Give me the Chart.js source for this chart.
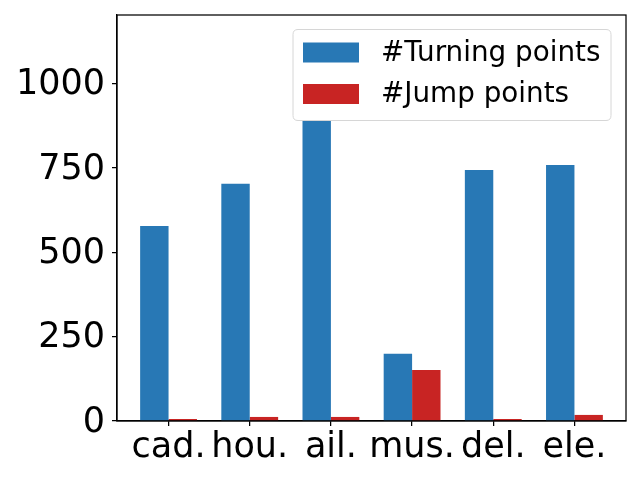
<!DOCTYPE html>
<html>
<head>
<meta charset="utf-8">
<script src="https://cdn.jsdelivr.net/npm/chart.js@4/dist/chart.umd.min.js"></script>
<style>
  html, body { margin: 0; padding: 0; background: #fff; }
  #wrap { width: 640px; height: 480px; }
</style>
</head>
<body>
<div id="wrap"><canvas id="c" width="640" height="480"></canvas></div>
<script>
const categories = ['cad.', 'hou.', 'ail.', 'mus.', 'del.', 'ele.'];
const turningPoints = [578, 703, 1146, 199, 744, 759];
const jumpPoints = [6, 12, 12, 151, 6, 18];
const yTicks = [0, 250, 500, 750, 1000];
const seriesNames = ['#Turning points', '#Jump points'];
const seriesColors = ['#2878b5', '#c82423'];

const FONT = 'DejaVu Sans';

const frameAndLegend = {
  id: 'frameAndLegend',
  afterDraw(chart) {
    const ctx = chart.ctx;
    const a = chart.chartArea;
    ctx.save();
    ctx.strokeStyle = '#000';
    ctx.lineWidth = 1.25;
    ctx.strokeRect(a.left, a.top, a.right - a.left, a.bottom - a.top);

    // legend box (inside plot, upper right)
    const bx = 293, by = 29.5, bw = 318, bh = 91, r = 5;
    ctx.beginPath();
    ctx.moveTo(bx + r, by);
    ctx.lineTo(bx + bw - r, by);
    ctx.quadraticCurveTo(bx + bw, by, bx + bw, by + r);
    ctx.lineTo(bx + bw, by + bh - r);
    ctx.quadraticCurveTo(bx + bw, by + bh, bx + bw - r, by + bh);
    ctx.lineTo(bx + r, by + bh);
    ctx.quadraticCurveTo(bx, by + bh, bx, by + bh - r);
    ctx.lineTo(bx, by + r);
    ctx.quadraticCurveTo(bx, by, bx + r, by);
    ctx.closePath();
    ctx.fillStyle = '#ffffff';
    ctx.fill();
    ctx.strokeStyle = '#d6d6d6';
    ctx.lineWidth = 1;
    ctx.stroke();

    ctx.font = '27.8px "' + FONT + '"';
    ctx.textBaseline = 'middle';
    ctx.textAlign = 'left';
    const rows = [52.5, 94];
    seriesNames.forEach((name, i) => {
      ctx.fillStyle = seriesColors[i];
      ctx.fillRect(303, rows[i] - 10, 56, 20);
      ctx.fillStyle = '#000';
      ctx.fillText(name, 381, rows[i] + 1);
    });
    ctx.restore();
  }
};

const ymax = 1.05 * Math.max(...turningPoints, ...jumpPoints);

new Chart(document.getElementById('c'), {
  type: 'bar',
  data: {
    datasets: [
      {
        label: seriesNames[0],
        data: categories.map((c, i) => ({ x: i, y: turningPoints[i] })),
        backgroundColor: seriesColors[0],
        borderWidth: 0,
        categoryPercentage: 0.7,
        barPercentage: 1.0
      },
      {
        label: seriesNames[1],
        data: categories.map((c, i) => ({ x: i, y: jumpPoints[i] })),
        backgroundColor: seriesColors[1],
        borderWidth: 0,
        categoryPercentage: 0.7,
        barPercentage: 1.0
      }
    ]
  },
  options: {
    responsive: false,
    animation: false,
    devicePixelRatio: 1,
    layout: { padding: { left: 0, right: 14, top: 15, bottom: 0 } },
    plugins: {
      legend: { display: false },
      tooltip: { enabled: false }
    },
    scales: {
      x: {
        type: 'linear',
        offset: false,
        min: -0.635,
        max: categories.length - 1 + 0.635,
        afterBuildTicks: (s) => { s.ticks = categories.map((c, i) => ({ value: i })); },
        afterFit: (s) => { s.height = 59; s.paddingLeft = 0; s.paddingRight = 0; },
        grid: { display: true, offset: false, drawOnChartArea: false, drawTicks: true, tickLength: 5, color: '#000', lineWidth: 1.25 },
        border: { display: true, color: '#000', width: 1.25 },
        ticks: {
          autoSkip: false,
          maxRotation: 0,
          minRotation: 0,
          padding: 1,
          color: '#000',
          font: { family: FONT, size: 35 },
          callback: (v) => categories[Math.round(v)]
        }
      },
      y: {
        type: 'linear',
        min: 0,
        max: ymax,
        afterBuildTicks: (s) => { s.ticks = yTicks.map(v => ({ value: v })); },
        afterFit: (s) => { s.width = 117; s.paddingTop = 0; s.paddingBottom = 0; },
        grid: { display: true, drawOnChartArea: false, drawTicks: true, tickLength: 5, color: '#000', lineWidth: 1.25 },
        border: { display: true, color: '#000', width: 1.25 },
        ticks: {
          padding: 7,
          labelOffset: 1.5,
          color: '#000',
          font: { family: FONT, size: 35 },
          callback: (v) => String(v)
        }
      }
    }
  },
  plugins: [frameAndLegend]
});
</script>
</body>
</html>
